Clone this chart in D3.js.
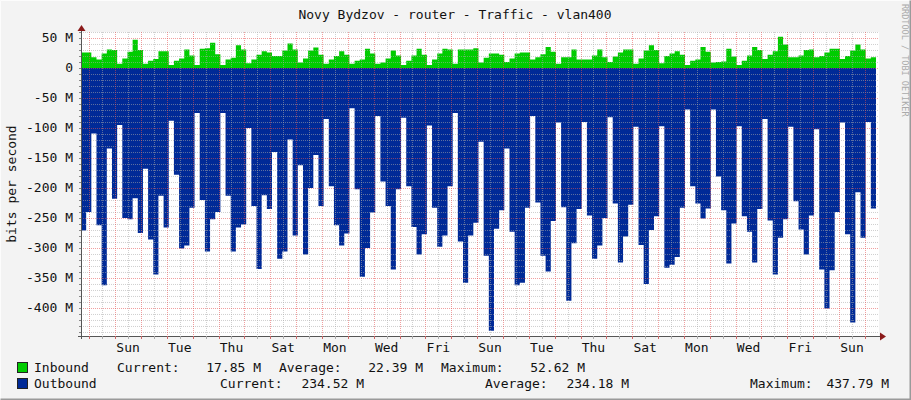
<!DOCTYPE html>
<html><head><meta charset="utf-8">
<script src="https://cdn.jsdelivr.net/npm/d3@7"></script>
<style>body{margin:0;background:#f3f3f3}svg{display:block}text{font-family:"DejaVu Sans Mono",monospace;}</style>
</head><body><svg id="c" width="911" height="400"></svg>
<script>
const outbound = [271,240,109,262,362,134,218,95,250,252,217,275,168,286,344,213,266,88,178,301,296,233,75,220,306,252,240,75,213,306,266,261,100,230,335,212,235,140,318,306,119,279,162,311,200,145,230,85,197,262,296,276,67,
202,348,300,241,80,189,230,336,202,83,197,265,311,277,96,233,298,279,197,75,289,358,279,258,123,313,438,268,237,134,273,362,358,233,80,224,313,339,255,91,232,388,292,235,90,246,318,296,250,82,226,324,281,
228,98,295,360,270,247,97,333,328,315,233,69,197,226,251,234,69,181,237,326,259,97,247,273,324,235,85,254,344,283,252,98,222,269,311,246,102,336,401,337,240,91,277,424,207,283,90,234];
const inbound = [26,26,18,14,24,31,30,7,16,27,47,30,7,12,15,28,28,5,12,16,31,21,5,32,33,42,23,5,14,17,38,31,8,14,22,28,26,20,20,29,41,31,9,16,29,34,22,7,14,20,28,22,7,
12,14,32,24,7,9,16,29,21,5,12,21,32,22,5,14,24,32,31,7,31,31,31,33,9,17,24,24,22,10,16,24,26,26,14,18,23,35,27,7,18,18,31,14,14,14,21,31,18,10,19,26,31,
31,7,16,29,38,30,8,20,24,28,22,5,12,14,35,27,9,10,11,32,19,5,12,21,35,30,15,22,28,52,39,18,18,21,30,31,18,20,26,32,32,15,20,29,39,31,16,18];
const yTicks = [50,0,-50,-100,-150,-200,-250,-300,-350,-400];
const title = "Novy Bydzov - router - Traffic - vlan400";
const legendRows = [
 {name:"Inbound", color:"#00cc00", cur:"17.85 M", avg:"22.39 M", max:"52.62 M"},
 {name:"Outbound", color:"#002a97", cur:"234.52 M", avg:"234.18 M", max:"437.79 M"}
];

const svg = d3.select("#c");
const W=911,H=400, L=81, R=876, T=32, B=336;
const DAY=86400000, step = 30.75*DAY/154;
const t0 = Date.UTC(2011,0,1) - (8.3/25.85)*DAY;
const n = outbound.length;
const x = d3.scaleUtc().domain([t0, t0+n*step]).range([L,R]);
const y = d3.scaleLinear().domain([-446.7,60]).range([B,T]);
const tm = i => new Date(t0+i*step);

svg.append("rect").attr("width",W).attr("height",H).attr("fill","#f3f3f3");
svg.append("path").attr("d",`M0.5,${H-0.5}V0.5H${W-0.5}`).attr("stroke","#fcfcfc").attr("fill","none");
svg.append("path").attr("d",`M0.5,${H-0.5}H${W-0.5}V0.5`).attr("stroke","#9a9a9a").attr("fill","none").attr("stroke-width",2);
svg.append("rect").attr("x",L).attr("y",T).attr("width",R-L+3).attr("height",B-T).attr("fill","#fff");

const pts = d3.range(n+1).map(i=>i);
const val = (arr,i)=>arr[Math.min(i,n-1)];
svg.append("path").attr("fill","#00cc00")
 .attr("d", d3.area().curve(d3.curveStepAfter).x(i=>x(tm(i))).y0(y(0)).y1(i=>y(val(inbound,i)))(pts));
svg.append("path").attr("fill","#002a97")
 .attr("d", d3.area().curve(d3.curveStepAfter).x(i=>x(tm(i))).y0(y(0)).y1(i=>y(-val(outbound,i)))(pts));

// grid
const g = svg.append("g");
d3.range(-440,61,10).forEach(v=>{ if(v%50!==0) g.append("line").attr("x1",L).attr("x2",R+3).attr("y1",y(v)+0.5).attr("y2",y(v)+0.5).attr("stroke","rgba(170,170,170,0.55)").attr("stroke-dasharray","1,1");});
x.ticks(d3.utcHour.every(12)).forEach(d=>{ if(d.getUTCHours()!==0) g.append("line").attr("x1",Math.round(x(d))+0.5).attr("x2",Math.round(x(d))+0.5).attr("y1",T).attr("y2",B).attr("stroke","rgba(170,170,170,0.55)").attr("stroke-dasharray","1,1");});
yTicks.forEach(v=>g.append("line").attr("x1",L).attr("x2",R+3).attr("y1",Math.round(y(v))+0.5).attr("y2",Math.round(y(v))+0.5).attr("stroke","rgba(230,80,80,0.55)").attr("stroke-dasharray","1,1"));
x.ticks(d3.utcDay.every(1)).forEach(d=>g.append("line").attr("x1",Math.round(x(d))+0.5).attr("x2",Math.round(x(d))+0.5).attr("y1",T).attr("y2",B).attr("stroke","rgba(230,80,80,0.55)").attr("stroke-dasharray","1,1"));

// axes
svg.append("line").attr("x1",L+0.5).attr("x2",L+0.5).attr("y1",T-2).attr("y2",B+3).attr("stroke","#555");
svg.append("line").attr("x1",L-3).attr("x2",R+6).attr("y1",B+0.5).attr("y2",B+0.5).attr("stroke","#555");
svg.append("path").attr("d",`M${L-3.5},${T-1}L${L+0.5},${T-7}L${L+4.5},${T-1}Z`).attr("fill","#8b1a1a");
svg.append("path").attr("d",`M${R+4},${B-3.5}L${R+10},${B+0.5}L${R+4},${B+4.5}Z`).attr("fill","#8b1a1a");
d3.range(-440,61,10).forEach(v=>svg.append("line").attr("x1",L-2).attr("x2",L).attr("y1",Math.round(y(v))+0.5).attr("y2",Math.round(y(v))+0.5).attr("stroke","#888"));
x.ticks(d3.utcHour.every(12)).forEach(d=>svg.append("line").attr("x1",Math.round(x(d))+0.5).attr("x2",Math.round(x(d))+0.5).attr("y1",B).attr("y2",B+3).attr("stroke",d.getUTCHours()?"#aaa":"#c66"));

yTicks.forEach(v=>svg.append("text").attr("x",73).attr("y",y(v)+4.5).attr("text-anchor","end").attr("font-size",13).attr("fill","#111").attr("xml:space","preserve").text(v===0?"0":`${v} M`));
d3.utcDay.range(new Date(Date.UTC(2011,0,2)), new Date(t0+n*step)).filter((d,i)=>i%2===0).forEach(d=>{
 svg.append("text").attr("x",x(new Date(+d+DAY/2))).attr("y",352).attr("text-anchor","middle").attr("font-size",13).attr("fill","#111").text(d3.utcFormat("%a")(d));
});

svg.append("text").attr("x",455).attr("y",19).attr("text-anchor","middle").attr("font-size",13).attr("fill","#111").text(title);
svg.append("text").attr("transform","translate(16,184) rotate(-90)").attr("text-anchor","middle").attr("font-size",13).attr("fill","#111").text("bits per second");
svg.append("text").attr("transform","translate(902,4) rotate(90)").attr("font-size",8.5).attr("fill","#aaa").text("RRDTOOL / TOBI OETIKER");

const rowY=[372,388];
const fs=13;
legendRows.forEach((r,k)=>{
 const yy=rowY[k];
 svg.append("rect").attr("x",17.5).attr("y",yy-9.5).attr("width",10).attr("height",10).attr("fill",r.color).attr("stroke","#222");
 const t=(xx,s,a)=>svg.append("text").attr("x",xx).attr("y",yy).attr("font-size",fs).attr("fill","#111").attr("text-anchor",a||"start").text(s);
 t(34,r.name);
 if(k===0){ t(117,"Current:"); t(261,r.cur,"end"); t(279,"Average:"); t(423,r.avg,"end"); t(441,"Maximum:"); t(585,r.max,"end"); }
 else { t(220,"Current:"); t(364,r.cur,"end"); t(485,"Average:"); t(629,r.avg,"end"); t(750,"Maximum:"); t(889,r.max,"end"); }
});
</script></body></html>
